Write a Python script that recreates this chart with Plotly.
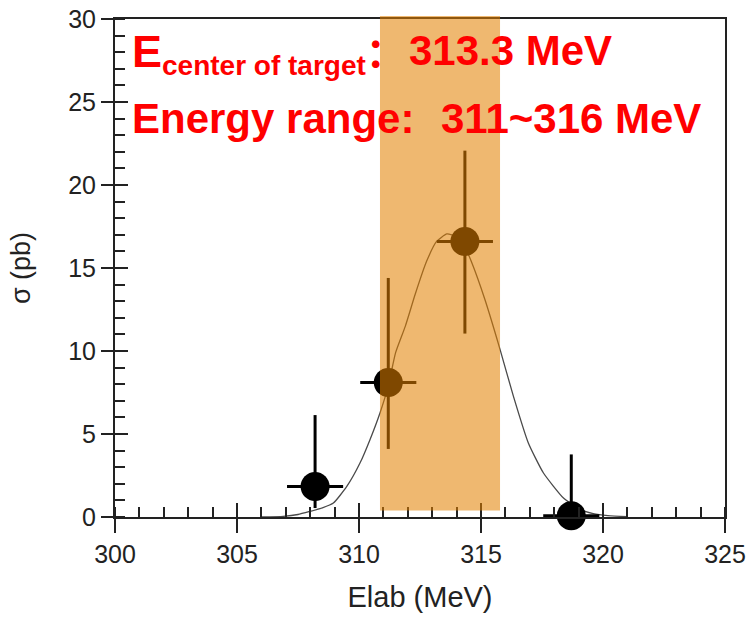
import plotly.graph_objects as go

# ---- data ----
e_lab = [308.2, 311.2, 314.34, 318.7]
sigma = [1.84, 8.1, 16.6, 0.07]
err_plus = [4.3, 6.3, 5.47, 3.7]
err_minus = [1.3, 4.0, 5.55, 0.07]
e_err = [1.15, 1.15, 1.15, 1.15]

fit_x = [306.0, 306.9, 307.5, 308.0, 308.5, 308.95, 309.5, 310.04, 310.45, 310.86,
         311.2, 311.5, 311.9, 312.3, 312.77, 313.18, 313.6, 314.0, 314.3, 314.6,
         315.16, 315.78, 316.33, 316.94, 317.56, 318.38, 319.0, 319.6, 320.2, 321.0]
fit_y = [0.0, 0.04, 0.15, 0.34, 0.55, 0.84, 1.84, 3.25, 4.66, 6.27,
         7.9, 9.9, 11.5, 13.4, 15.4, 16.6, 17.05, 16.9, 16.4, 15.4,
         13.1, 10.1, 7.27, 4.46, 2.65, 1.14, 0.5, 0.2, 0.08, 0.02]

band_range = [310.86, 315.78]
x_range = [300, 325]
y_range = [0, 30]

label_center = "313.3 MeV"
label_range = "311~316 MeV"

FONT = "Liberation Sans, Arial, sans-serif"
AXC = "#222222"
RED = "#ff0000"

fig = go.Figure()

fig.add_trace(go.Scatter(
    x=fit_x, y=fit_y, mode="lines",
    line=dict(color="#4a4a4a", width=1.3, shape="spline", smoothing=0.5),
    showlegend=False, hoverinfo="skip", cliponaxis=False,
))

fig.add_trace(go.Scatter(
    x=e_lab, y=sigma, mode="markers",
    marker=dict(color="black", size=29),
    error_y=dict(type="data", symmetric=False, array=err_plus, arrayminus=err_minus,
                 color="black", thickness=3, width=0),
    error_x=dict(type="data", array=e_err, color="black", thickness=3, width=0),
    showlegend=False, cliponaxis=False,
))

# dummy trace so the overlay axes (inside major ticks) are drawn
fig.add_trace(go.Scatter(x=[None], y=[None], xaxis="x2", yaxis="y2",
                         showlegend=False, hoverinfo="skip"))

fig.add_shape(type="rect", xref="x", yref="paper",
              x0=band_range[0], x1=band_range[1], y0=0.0133, y1=1.006,
              fillcolor="rgb(226,128,0)", opacity=0.56, line=dict(width=0),
              layer="above")

ann_font = dict(family=FONT, size=42, color=RED, weight="bold")
fig.add_annotation(xref="x", yref="y", x=300.62, y=28.1, xanchor="left", yanchor="middle",
                   text=("<span style='font-size:45px'>E</span><sub>center of target</sub>"
                         "<span style='font-family:Noto Sans CJK SC'>：</span>"),
                   showarrow=False, font=dict(family=FONT, size=40, color=RED, weight="bold"))
fig.add_annotation(xref="x", yref="y", x=311.98, y=28.1, xanchor="left", yanchor="middle",
                   text=label_center, showarrow=False, font=ann_font)
fig.add_annotation(xref="x", yref="y", x=300.62, y=24.0, xanchor="left", yanchor="middle",
                   text="Energy range:", showarrow=False, font=ann_font)
fig.add_annotation(xref="x", yref="y", x=313.28, y=24.0, xanchor="left", yanchor="middle",
                   text=label_range, showarrow=False, font=ann_font)

fig.update_layout(
    width=747, height=618,
    margin=dict(l=115, r=22, t=19, b=101),
    paper_bgcolor="white", plot_bgcolor="white",
    font=dict(family=FONT, color=AXC),
    xaxis=dict(
        range=x_range, tick0=300, dtick=5, ticks="outside", ticklen=14, tickwidth=2,
        tickcolor=AXC, showline=True, linecolor=AXC, linewidth=2, mirror=True,
        showgrid=False, zeroline=False, tickfont=dict(size=25, color=AXC), automargin=False,
        minor=dict(ticks="inside", ticklen=10, dtick=1, tickwidth=1.5, tickcolor=AXC),
        title=dict(text="Elab (MeV)", font=dict(size=29, color=AXC), standoff=20),
    ),
    yaxis=dict(
        range=y_range, tick0=0, dtick=5, ticks="outside", ticklen=12, tickwidth=2,
        tickcolor=AXC, showline=True, linecolor=AXC, linewidth=2, mirror=True,
        showgrid=False, zeroline=False, tickfont=dict(size=25, color=AXC), automargin=False,
        minor=dict(ticks="inside", ticklen=10, dtick=1, tickwidth=1.5, tickcolor=AXC),
        title=dict(text="σ (pb)", font=dict(size=27, color=AXC), standoff=30),
    ),
    xaxis2=dict(range=x_range, overlaying="x", anchor="y", side="bottom", tick0=300, dtick=5,
                ticks="inside", ticklen=14, tickwidth=2, tickcolor=AXC, automargin=False,
                showticklabels=False, showgrid=False, zeroline=False, showline=False),
    yaxis2=dict(range=y_range, overlaying="y", anchor="x", side="left", tick0=0, dtick=5,
                ticks="inside", ticklen=13, tickwidth=2, tickcolor=AXC, automargin=False,
                showticklabels=False, showgrid=False, zeroline=False, showline=False),
)

fig.write_html("out.html")
